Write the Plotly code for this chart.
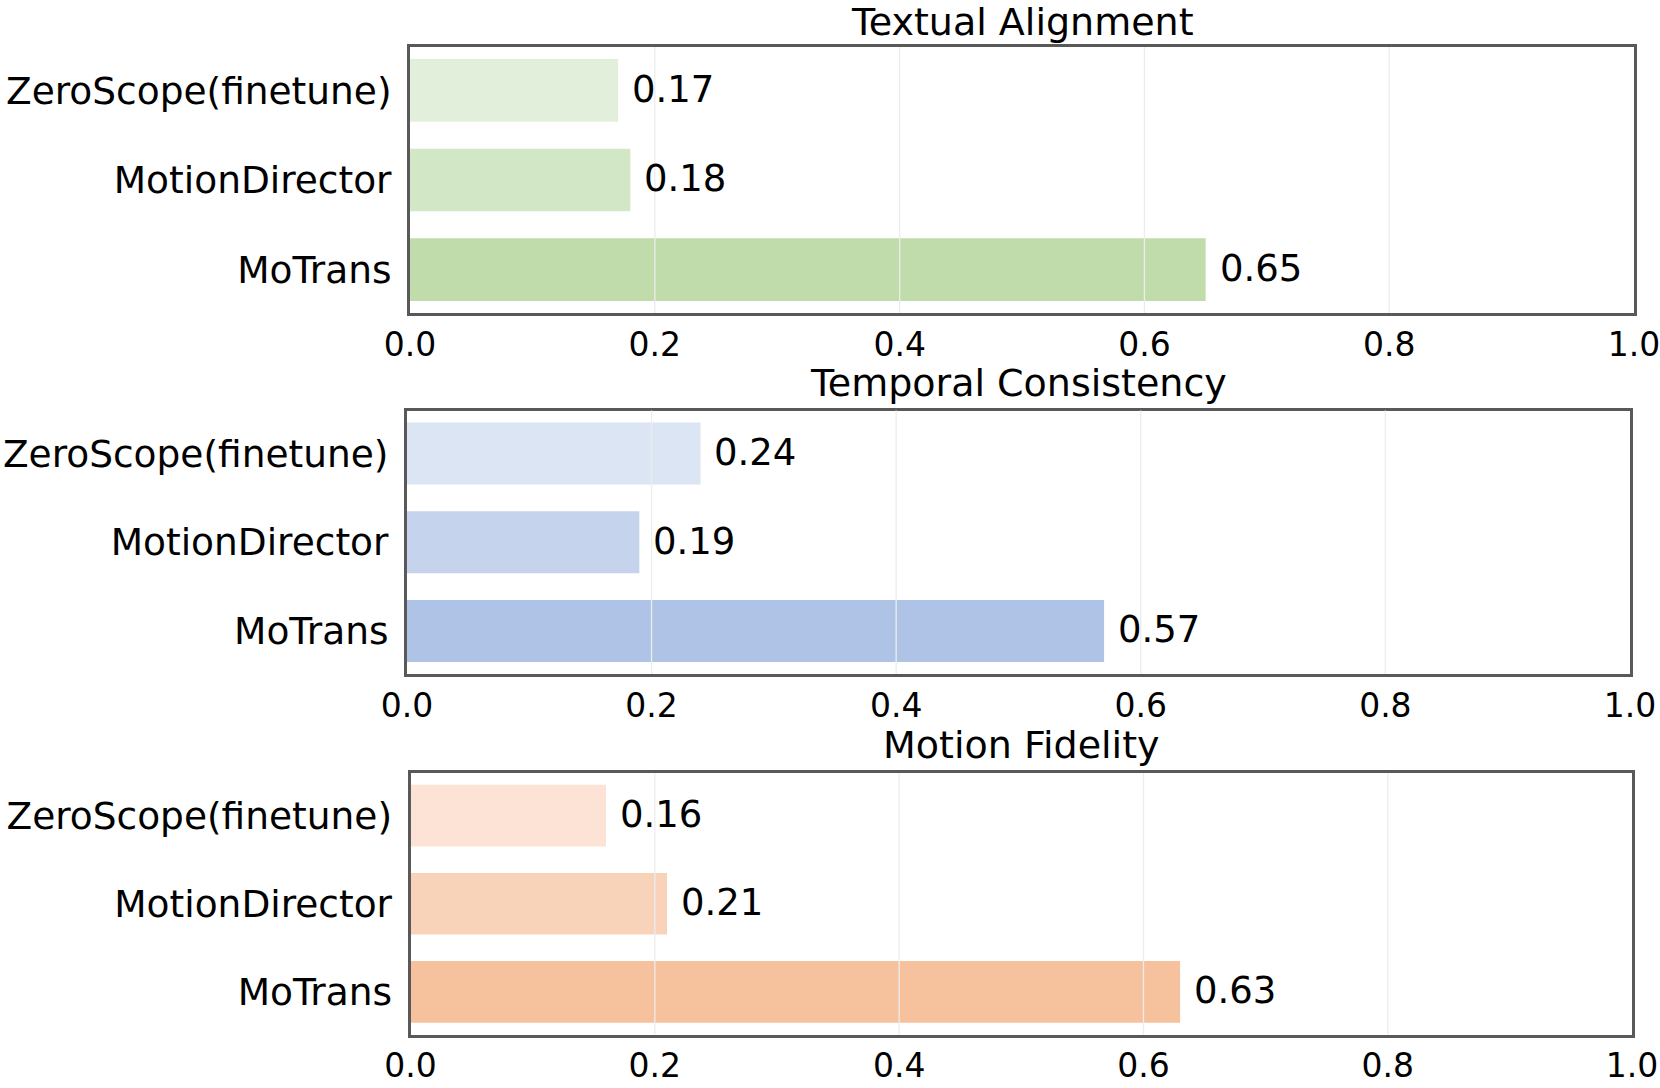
import plotly.graph_objects as go
from plotly.subplots import make_subplots

models = ["ZeroScope(finetune)", "MotionDirector", "MoTrans"]
titles = ["Textual Alignment", "Temporal Consistency", "Motion Fidelity"]
textual_alignment = [0.17, 0.18, 0.65]
temporal_consistency = [0.24, 0.19, 0.57]
motion_fidelity = [0.16, 0.21, 0.63]
x_ticks = [0.0, 0.2, 0.4, 0.6, 0.8, 1.0]
x_tick_labels = ["0.0", "0.2", "0.4", "0.6", "0.8", "1.0"]

green = ["#e2efda", "#d2e7c6", "#bfdcaa"]
blue = ["#dbe5f3", "#c5d4ec", "#aec3e6"]
orange = ["#fce3d6", "#f8d3ba", "#f6c29e"]

series = [textual_alignment, temporal_consistency, motion_fidelity]
palettes = [green, blue, orange]

x_domains = [[0.0041, 0.9984], [0.0016, 0.9951], [0.0045, 0.9968]]
y_domains = [[0.7301, 0.998], [0.3666, 0.6319], [0.0035, 0.2669]]
title_shift = [1, 4, 4]

FONT = "DejaVu Sans"
fig = make_subplots(rows=3, cols=1)

for i, (vals, cols) in enumerate(zip(series, palettes)):
    r = i + 1
    fig.add_trace(go.Bar(
        y=models, x=vals, orientation="h", width=0.7,
        marker=dict(color=cols, line=dict(width=0)),
        showlegend=False, hoverinfo="x+y",
    ), row=r, col=1)
    xa = "x" if i == 0 else f"x{r}"
    ya = "y" if i == 0 else f"y{r}"
    for m, v in zip(models, vals):
        fig.add_annotation(x=v, y=m, xref=xa, yref=ya, text=f"{v:.2f}",
                           showarrow=False, xanchor="left", yanchor="middle",
                           xshift=12, yshift=1,
                           font=dict(family=FONT, size=37, color="black"))
    # grid lines drawn above bars (light)
    for t in x_ticks[1:-1]:
        fig.add_shape(type="line", x0=t, x1=t, y0=0, y1=1,
                      xref=xa, yref=f"{ya} domain", layer="above",
                      line=dict(color="#ececec", width=1.3))
    # title
    fig.add_annotation(x=0.5, y=1, xref=f"{xa} domain", yref=f"{ya} domain",
                       text=titles[i], showarrow=False, xanchor="center",
                       yanchor="bottom", yshift=title_shift[i],
                       font=dict(family=FONT, size=38, color="black"))
    fig.update_xaxes(row=r, col=1, range=[0, 1], tickvals=x_ticks,
                     ticktext=x_tick_labels, showgrid=False, zeroline=False,
                     showline=True, mirror=True, linecolor="#595959", linewidth=3,
                     ticks="", ticklabelstandoff=0, automargin=False,
                     ticklabeloverflow="allow",
                     tickfont=dict(family=FONT, size=33, color="black"),
                     domain=x_domains[i])
    fig.update_yaxes(row=r, col=1, type="category", categoryorder="array",
                     categoryarray=models, range=[2.485, -0.485],
                     showgrid=False, zeroline=False, automargin=False,
                     showline=True, mirror=True, linecolor="#595959", linewidth=3,
                     ticks="", ticklabelstandoff=8,
                     tickfont=dict(family=FONT, size=37.5, color="black"),
                     domain=y_domains[i])

fig.update_layout(
    width=1660, height=1088,
    margin=dict(l=405, r=24, t=45, b=50),
    paper_bgcolor="white", plot_bgcolor="white",
    font=dict(family=FONT, color="black"),
    bargap=0.3,
)

fig.write_html("out.html", config={"displayModeBar": False},
               post_script="document.body.style.margin='0px';document.body.style.overflow='hidden';")
